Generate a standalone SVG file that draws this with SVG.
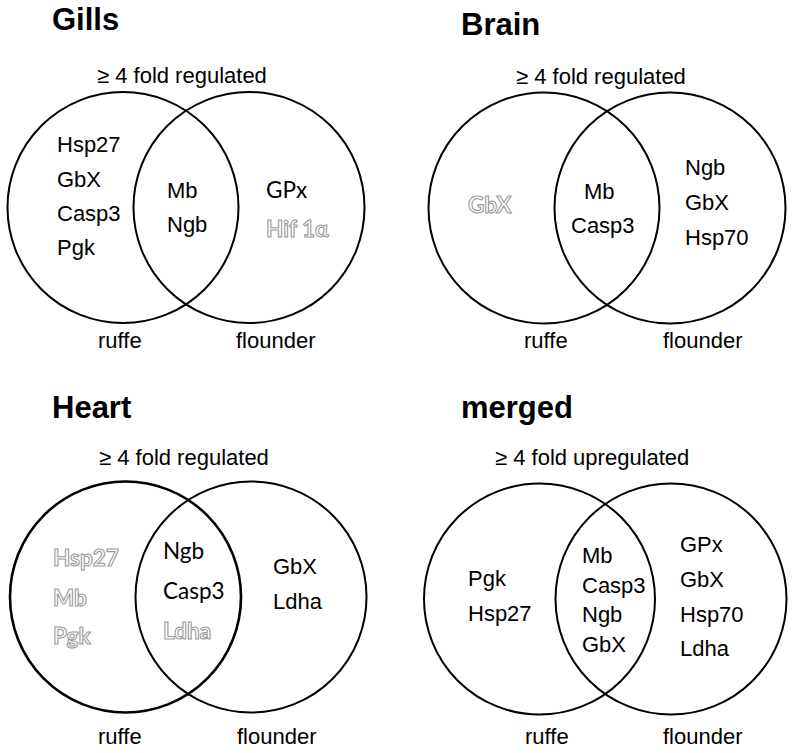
<svg xmlns="http://www.w3.org/2000/svg" width="796" height="753" viewBox="0 0 796 753">
<style>
.c{fill:none;stroke:#000;stroke-width:2}
.ct{fill:none;stroke:#000;stroke-width:2.6}
.t{font-family:"Liberation Sans",Arial,sans-serif;font-size:31px;font-weight:bold;fill:#000}
.s{font-family:"Liberation Sans",Arial,sans-serif;font-size:22px;fill:#000}
.k{font-family:Lato,"Open Sans",sans-serif;font-size:22.5px;fill:#000}
.g{font-family:Lato,"Open Sans",sans-serif;font-size:22.5px;font-weight:bold;fill:#fff;stroke:#9a9a9a;stroke-width:1.1}
</style>
<rect width="796" height="753" fill="#fff"/>

<g id="gills">
  <text class="t" x="52" y="30">Gills</text>
  <text class="s" x="97" y="83">≥ 4 fold regulated</text>
  <g id="gills-ruffe"><circle class="c" cx="123" cy="207.5" r="115.5"/></g>
  <g id="gills-flounder"><circle class="c" cx="249" cy="207.5" r="115.5"/></g>
  <text class="s" x="57" y="152">Hsp27</text>
  <text class="s" x="57" y="187">GbX</text>
  <text class="s" x="57" y="221">Casp3</text>
  <text class="s" x="57" y="255">Pgk</text>
  <text class="s" x="167" y="198">Mb</text>
  <text class="s" x="167" y="232">Ngb</text>
  <text class="k" x="266" y="198">GPx</text>
  <text class="g" x="266" y="237">Hif 1α</text>
  <text class="s" x="98" y="348">ruffe</text>
  <text class="s" x="236" y="348">flounder</text>
</g>

<g id="brain">
  <text class="t" x="461" y="35">Brain</text>
  <text class="s" x="516" y="84">≥ 4 fold regulated</text>
  <g id="brain-ruffe"><circle class="c" cx="544" cy="208" r="115.5"/></g>
  <g id="brain-flounder"><circle class="c" cx="670" cy="208" r="115.5"/></g>
  <text class="g" x="468" y="213">GbX</text>
  <text class="s" x="584" y="199">Mb</text>
  <text class="s" x="571" y="233">Casp3</text>
  <text class="s" x="685" y="175">Ngb</text>
  <text class="s" x="685" y="210">GbX</text>
  <text class="s" x="685" y="245">Hsp70</text>
  <text class="s" x="524" y="348">ruffe</text>
  <text class="s" x="663" y="348">flounder</text>
</g>

<g id="heart">
  <text class="t" x="52" y="418">Heart</text>
  <text class="s" x="99" y="465">≥ 4 fold regulated</text>
  <g id="heart-ruffe"><circle class="ct" cx="125.5" cy="597" r="115.5"/></g>
  <g id="heart-flounder"><circle class="c" cx="251" cy="597" r="115.5"/></g>
  <text class="g" x="53" y="566">Hsp27</text>
  <text class="g" x="53" y="606">Mb</text>
  <text class="g" x="53" y="644">Pgk</text>
  <text class="k" x="163" y="559">Ngb</text>
  <text class="k" x="163" y="599">Casp3</text>
  <text class="g" x="163" y="639">Ldha</text>
  <text class="s" x="273" y="574">GbX</text>
  <text class="s" x="273" y="609">Ldha</text>
  <text class="s" x="98" y="744">ruffe</text>
  <text class="s" x="237" y="744">flounder</text>
</g>

<g id="merged">
  <text class="t" x="461" y="418">merged</text>
  <text class="s" x="495" y="465">≥ 4 fold upregulated</text>
  <g id="merged-ruffe"><circle class="c" cx="539.5" cy="599" r="115.5"/></g>
  <g id="merged-flounder"><circle class="c" cx="671" cy="599" r="115.5"/></g>
  <text class="s" x="468" y="586">Pgk</text>
  <text class="s" x="468" y="621">Hsp27</text>
  <text class="s" x="582" y="563">Mb</text>
  <text class="s" x="582" y="593">Casp3</text>
  <text class="s" x="582" y="622">Ngb</text>
  <text class="s" x="582" y="652">GbX</text>
  <text class="s" x="680" y="552">GPx</text>
  <text class="s" x="680" y="587">GbX</text>
  <text class="s" x="680" y="622">Hsp70</text>
  <text class="s" x="680" y="656">Ldha</text>
  <text class="s" x="525" y="744">ruffe</text>
  <text class="s" x="663" y="744">flounder</text>
</g>
</svg>
